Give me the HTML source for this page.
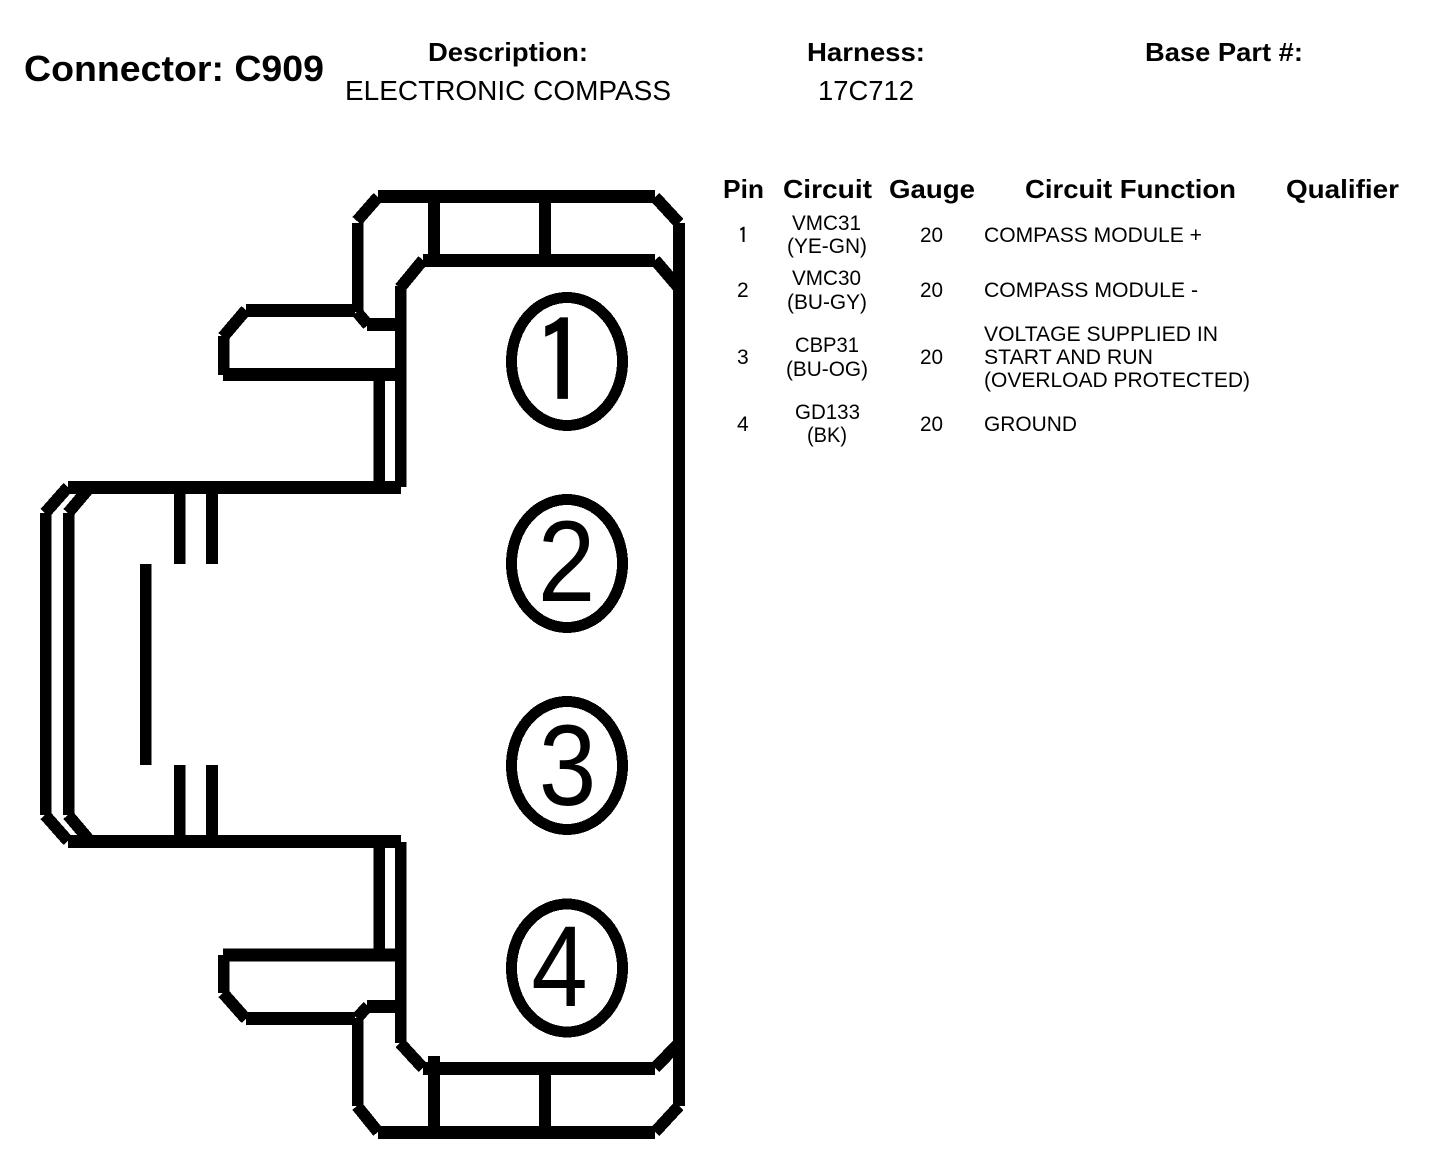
<!DOCTYPE html>
<html><head><meta charset="utf-8"><style>
html,body{margin:0;padding:0;background:#fff}
svg{display:block}
text{font-family:"Liberation Sans",sans-serif;fill:#000}
.b{font-weight:bold;font-size:26px}
.r{font-size:21px}
.d{font-size:115px}
.one{font-family:"IPAGothic",sans-serif}
</style></head><body>
<svg width="1440" height="1164" viewBox="0 0 1440 1164" xmlns="http://www.w3.org/2000/svg">
<rect width="1440" height="1164" fill="#fff"/>
<text x="24" y="81" font-size="36" font-weight="bold" textLength="300" lengthAdjust="spacingAndGlyphs">Connector: C909</text>
<text class="b" x="428" y="61" textLength="160" lengthAdjust="spacingAndGlyphs">Description:</text>
<text class="b" x="807" y="61" textLength="118" lengthAdjust="spacingAndGlyphs">Harness:</text>
<text class="b" x="1145" y="61" textLength="158" lengthAdjust="spacingAndGlyphs">Base Part #:</text>
<text x="345" y="100" font-size="28" textLength="326" lengthAdjust="spacingAndGlyphs">ELECTRONIC COMPASS</text>
<text x="818" y="100" font-size="28" textLength="96" lengthAdjust="spacingAndGlyphs">17C712</text>

<text class="b" x="723" y="198" textLength="41" lengthAdjust="spacingAndGlyphs">Pin</text>
<text class="b" x="783" y="198" textLength="89" lengthAdjust="spacingAndGlyphs">Circuit</text>
<text class="b" x="889" y="198" textLength="86" lengthAdjust="spacingAndGlyphs">Gauge</text>
<text class="b" x="1025" y="198" textLength="211" lengthAdjust="spacingAndGlyphs">Circuit Function</text>
<text class="b" x="1286" y="198" textLength="113" lengthAdjust="spacingAndGlyphs">Qualifier</text>

<text class="r one" x="738" y="243" stroke="#000" stroke-width=".4">1</text>
<text class="r" x="792" y="230" textLength="69" lengthAdjust="spacingAndGlyphs">VMC31</text>
<text class="r" x="787" y="253" textLength="80" lengthAdjust="spacingAndGlyphs">(YE-GN)</text>
<text class="r" x="920" y="242" textLength="23" lengthAdjust="spacingAndGlyphs">20</text>
<text class="r" x="984" y="242" textLength="218" lengthAdjust="spacingAndGlyphs">COMPASS MODULE +</text>

<text class="r" x="737" y="297">2</text>
<text class="r" x="792" y="285" textLength="69" lengthAdjust="spacingAndGlyphs">VMC30</text>
<text class="r" x="787" y="309" textLength="80" lengthAdjust="spacingAndGlyphs">(BU-GY)</text>
<text class="r" x="920" y="297" textLength="23" lengthAdjust="spacingAndGlyphs">20</text>
<text class="r" x="984" y="297" textLength="214" lengthAdjust="spacingAndGlyphs">COMPASS MODULE -</text>

<text class="r" x="737" y="364">3</text>
<text class="r" x="795" y="352" textLength="64" lengthAdjust="spacingAndGlyphs">CBP31</text>
<text class="r" x="786" y="376" textLength="82" lengthAdjust="spacingAndGlyphs">(BU-OG)</text>
<text class="r" x="920" y="364" textLength="23" lengthAdjust="spacingAndGlyphs">20</text>
<text class="r" x="984" y="341" textLength="234" lengthAdjust="spacingAndGlyphs">VOLTAGE SUPPLIED IN</text>
<text class="r" x="984" y="364" textLength="169" lengthAdjust="spacingAndGlyphs">START AND RUN</text>
<text class="r" x="984" y="387" textLength="266" lengthAdjust="spacingAndGlyphs">(OVERLOAD PROTECTED)</text>

<text class="r" x="737" y="431">4</text>
<text class="r" x="795" y="419" textLength="65" lengthAdjust="spacingAndGlyphs">GD133</text>
<text class="r" x="807" y="442" textLength="40" lengthAdjust="spacingAndGlyphs">(BK)</text>
<text class="r" x="920" y="431" textLength="23" lengthAdjust="spacingAndGlyphs">20</text>
<text class="r" x="984" y="431" textLength="93" lengthAdjust="spacingAndGlyphs">GROUND</text>

<g stroke="#000" fill="none" shape-rendering="crispEdges">
<g stroke-width="13">
<path d="M378 196.5H655M423 260.5H655M246 310.5H355M223 374.5H400M367 324.5H400M68 487.5H401"/>
<path d="M68 841.5H401M223 955H400M246 1018.5H355M367 1006.5H400M423 1068.5H655M378 1132.5H655"/>
</g>
<g stroke-width="11.5">
<path d="M357.5 223V312M400.5 286V487M379 381V482M223.5 336V375"/>
<path d="M45.5 513V815M68.5 513V815M145.5 564V765"/>
<path d="M179.5 494V564M179.5 765V835"/>
<path d="M400.5 842V1043M379 848V950M223.5 955V993M357.5 1018V1106"/>
</g>
<g stroke-width="12">
<path d="M679 223V1106M434 203V254M545 203V254M434 1056V1126M545 1075V1126M212 494V564M212 765V835"/>
</g>
<g stroke-width="12">
<path d="M378 197L357 221M655 197L679 223M423 260L400 288M655 260L679 288"/>
<path d="M246 310L223 337M357 312L368 325"/>
<path d="M68 487L45 513M90 487L68 513M45 815L68 841M68 815L90 841"/>
<path d="M223 993L246 1019M368 1006L357 1018M357 1106L378 1132M655 1132L679 1106"/>
<path d="M400 1043L423 1068M655 1068L679 1043"/>
</g>
<g stroke-width="11">
<ellipse cx="567" cy="361.5" rx="55.5" ry="64"/>
<ellipse cx="567" cy="563.5" rx="55.5" ry="64"/>
<ellipse cx="567" cy="765.5" rx="55.5" ry="64"/>
<ellipse cx="567" cy="968" rx="55.5" ry="64"/>
</g>
</g>
<text class="d one" text-anchor="middle" stroke="#000" stroke-width="1.2" transform="translate(561,404)">1</text>
<text class="d" text-anchor="middle" transform="translate(566.5,601) scale(.9,1)">2</text>
<text class="d" text-anchor="middle" transform="translate(567.5,805) scale(.9,1)">3</text>
<text class="d" text-anchor="middle" transform="translate(559.5,1006) scale(.88,1)">4</text>
</svg>
</body></html>
